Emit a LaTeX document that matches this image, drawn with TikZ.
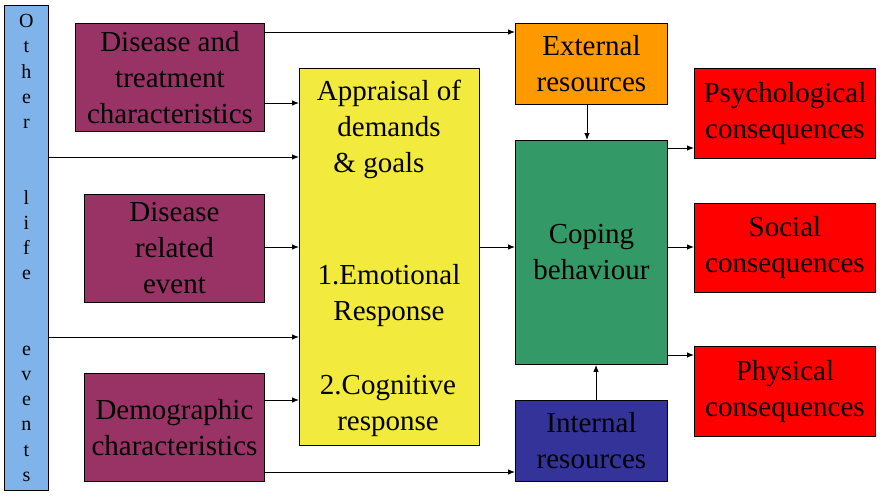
\documentclass[tikz,border=0pt]{standalone}
\usepackage{fontspec}
\setmainfont{Liberation Serif}
\usetikzlibrary{arrows.meta}
\definecolor{plum}{HTML}{993366}
\definecolor{yel}{HTML}{F2EA3C}
\definecolor{orng}{HTML}{FF9900}
\definecolor{grn}{HTML}{339966}
\definecolor{blu}{HTML}{333399}
\definecolor{rd}{HTML}{FF0000}
\definecolor{lblue}{HTML}{7FB3EA}
\begin{document}
\begin{tikzpicture}[x=1pt,y=-1pt,
  box/.style={draw=black,line width=0.9pt,inner sep=0pt,anchor=north west,align=center,
    font=\fontsize{29}{36}\selectfont},
  txt/.style={inner sep=0pt,align=center,font=\fontsize{29}{36}\selectfont},
  arr/.style={line width=0.9pt,-{Latex[length=7pt,width=5.5pt]}},
  ln/.style={line width=0.9pt}]
\useasboundingbox (0,0) rectangle (896,500);
% boxes
\node[box,fill=lblue,minimum width=44pt,minimum height=485pt,
  font=\fontsize{20}{25.2}\selectfont] (ole) at (4,5)
  {O\\t\\h\\e\\r\\~\\~\\l\\i\\f\\e\\~\\~\\e\\v\\e\\n\\t\\s};
\node[box,fill=plum,minimum width=189pt,minimum height=108pt] (dt) at (75,23)
  {Disease and\\treatment\\characteristics};
\node[box,fill=plum,minimum width=180pt,minimum height=108pt] (dre) at (84,194)
  {Disease\\related\\event};
\node[box,fill=plum,minimum width=180pt,minimum height=108pt] (demo) at (84,373)
  {Demographic\\characteristics};
\node[box,fill=yel,minimum width=180pt,minimum height=377pt] (app) at (299,68) {};
\node[txt] (appt) at (389,129) {Appraisal of\\demands\\\&~goals\hspace*{20pt}};
\node[txt] (emo) at (389,296) {1.Emotional\\Response};
\node[txt] (cog) at (388,406) {2.Cognitive\\response};
\node[box,fill=orng,minimum width=152pt,minimum height=81pt] (ext) at (515,23)
  {External\\resources};
\node[box,fill=grn,minimum width=152pt,minimum height=224pt] (cop) at (515,140)
  {Coping\\behaviour};
\node[box,fill=blu,minimum width=152pt,minimum height=81pt] (int) at (515,400)
  {Internal\\resources};
\node[box,fill=rd,minimum width=181pt,minimum height=90pt] (psy) at (694,68)
  {Psychological\\consequences};
\node[box,fill=rd,minimum width=181pt,minimum height=89pt] (soc) at (694,203)
  {Social\\consequences};
\node[box,fill=rd,minimum width=181pt,minimum height=90pt] (phy) at (694,346)
  {Physical\\consequences};
% connectors
\draw[arr] (dt.east |- 0,32) -- (ext.west |- 0,32);
\draw[arr] (dt.east |- 0,103) -- (app.west |- 0,103);
\draw[arr] (ole.east |- 0,157) -- (app.west |- 0,157);
\draw[arr] (dre.east |- 0,247) -- (app.west |- 0,247);
\draw[arr] (ole.east |- 0,337) -- (app.west |- 0,337);
\draw[arr] (demo.east |- 0,400) -- (app.west |- 0,400);
\draw[arr] (demo.east |- 0,472) -- (int.west |- 0,472);
\draw[arr] (app.east |- 0,247) -- (cop.west |- 0,247);
\draw[arr] (ext.south -| 587,0) -- (cop.north -| 587,0);
\draw[arr] (int.north -| 596,0) -- (cop.south -| 596,0);
\draw[arr] (cop.east |- 0,148) -- (psy.west |- 0,148);
\draw[arr] (cop.east |- 0,247) -- (soc.west |- 0,247);
\draw[arr] (cop.east |- 0,355) -- (phy.west |- 0,355);
\end{tikzpicture}
\end{document}
